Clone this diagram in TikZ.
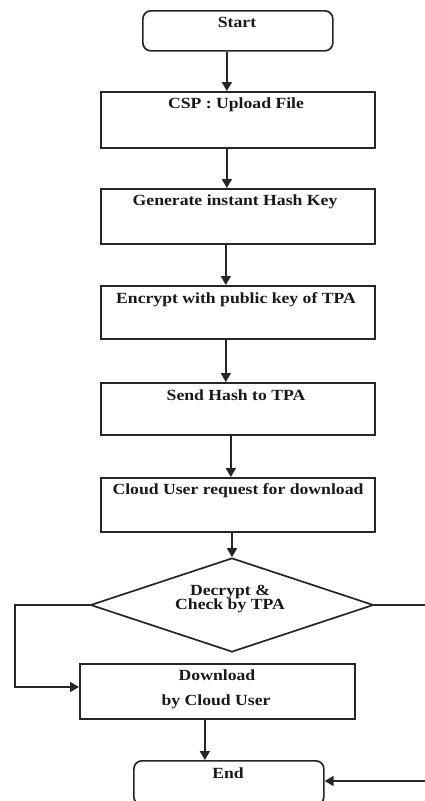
\documentclass[tikz,border=0pt]{standalone}
\usepackage{fontspec}
\setmainfont{Liberation Serif}[FakeStretch=1.14]
\usetikzlibrary{arrows.meta,shapes.geometric}
\begin{document}
\begin{tikzpicture}[x=1pt,y=-1pt,
  ln/.style={draw=black!85,line width=1.7pt},
  arr/.style={ln,-{Triangle[length=9pt,width=10pt]}},
  box/.style={ln,rectangle,inner sep=0pt,minimum width=274pt,anchor=north west},
  term/.style={ln,rectangle,rounded corners=8pt,inner sep=0pt,anchor=north west},
  dia/.style={ln,diamond,inner sep=0pt,minimum width=283pt,minimum height=94pt},
  txt/.style={font=\bfseries\fontsize{15.5}{16}\selectfont,text=black!90,inner sep=0pt,align=center}]
\useasboundingbox (0,0) rectangle (425,801);
\clip (0,0) rectangle (425,801);
\fill[white] (0,0) rectangle (425,801);
% shapes
\node[term,minimum width=190pt,minimum height=40pt] (start) at (142,10) {};
\node[box,minimum height=56pt] (csp) at (100,91) {};
\node[box,minimum height=55pt] (gen) at (100,188) {};
\node[box,minimum height=53pt] (enc) at (100,285) {};
\node[box,minimum height=52pt] (send) at (100,382) {};
\node[box,minimum height=54pt] (cloud) at (100,477) {};
\node[dia] (dec) at (232,605) {};
\node[box,minimum width=275pt,minimum height=55pt] (dl) at (79,663) {};
\node[term,minimum width=190pt,minimum height=44pt] (end) at (133,760) {};
% texts
\node[txt] (startt) at (237,22) {Start};
\node[txt] (cspt) at (236,105) {CSP : Upload File};
\node[txt] (gent) at (235,202) {Generate instant Hash Key};
\node[txt] (enct) at (236,300) {Encrypt with public key of TPA};
\node[txt] (sendt) at (236,395) {Send Hash to TPA};
\node[txt] (cloudt) at (238,491) {Cloud User request for download};
\node[txt] (dect1) at (230,592) {Decrypt \&};
\node[txt] (dect2) at (230,606) {Check by TPA};
\node[txt] (dlt1) at (217,675) {Download};
\node[txt] (dlt2) at (216,702) {by Cloud User};
\node[txt] (endt) at (228,773) {End};
% coordinates for bends
\coordinate (lb) at (15,605);
\coordinate (lb2) at (15,687);
\coordinate (rb) at (445,605);
\coordinate (rb2) at (445,781);
% connectors
\draw[arr] ([xshift=-11pt]start.south) -- ([xshift=-11pt]csp.north);
\draw[arr] ([xshift=-11pt]csp.south) -- ([xshift=-11pt]gen.north);
\draw[arr] ([xshift=-12pt]gen.south) -- ([xshift=-12pt]enc.north);
\draw[arr] ([xshift=-12pt]enc.south) -- ([xshift=-12pt]send.north);
\draw[arr] ([xshift=-7pt]send.south) -- ([xshift=-7pt]cloud.north);
\draw[arr] (cloud.south -| dec.north) -- (dec.north);
\draw[arr] (dec.west) -- (lb) -- (lb2) -- (lb2 -| dl.west);
\draw[arr] ([xshift=-12.5pt]dl.south) -- ([xshift=-12.5pt]dl.south |- end.north);
\draw[arr] (dec.east) -- (rb) -- (rb2) -- (rb2 -| end.east);
\end{tikzpicture}
\end{document}
